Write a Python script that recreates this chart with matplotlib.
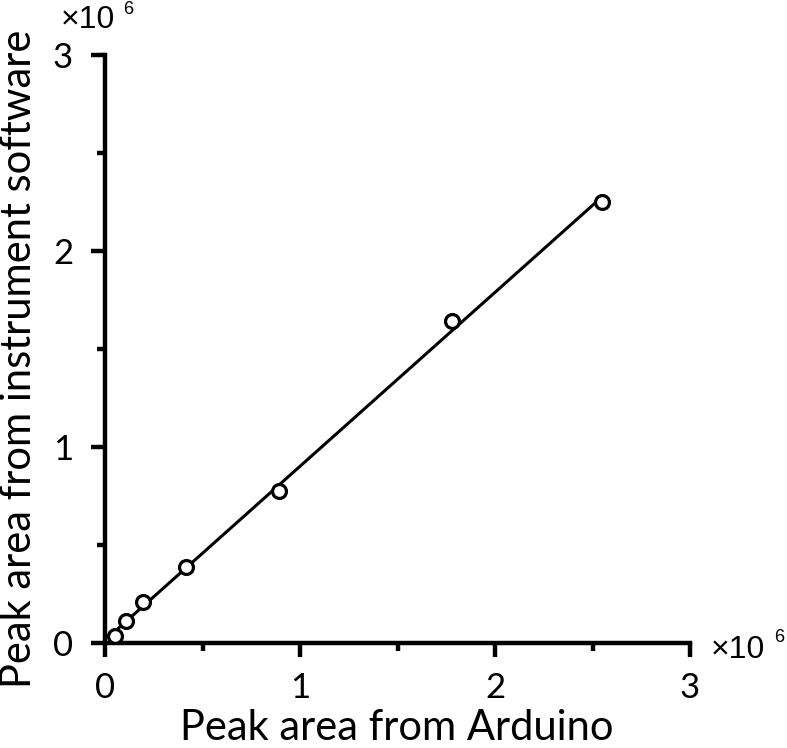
import matplotlib
matplotlib.use("Agg")
from matplotlib import pyplot as plt
from matplotlib.ticker import MultipleLocator
import numpy as np

# peak areas, in units of 1e6
arduino = [0.05, 0.11, 0.195, 0.415, 0.89, 1.78, 2.55]
instrument = [0.036, 0.11, 0.21, 0.39, 0.776, 1.643, 2.25]
ticks = [0, 1, 2, 3]

x = np.array(arduino)
y = np.array(instrument)
k, b = np.polyfit(x, y, 1)
xf = np.array([x.min(), x.max()])

W, H = 787, 748
fig = plt.figure(figsize=(W / 100, H / 100), dpi=100)
ax = fig.add_axes([105 / W, 1 - 643 / H, 585 / W, 588 / H])

ax.plot(xf, k * xf + b, color='black', lw=2.2, zorder=2)
ax.plot(x, y, 'o', mfc='white', mec='black', ms=10, mew=2.3, zorder=3,
        clip_on=False)

ax.set_xlim(0, 3)
ax.set_ylim(0, 3)
ax.set_xticks(ticks)
ax.set_yticks(ticks)
ax.xaxis.set_minor_locator(MultipleLocator(0.5))
ax.yaxis.set_minor_locator(MultipleLocator(0.5))

for s in ['top', 'right']:
    ax.spines[s].set_visible(False)
for s in ['left', 'bottom']:
    ax.spines[s].set_linewidth(3.2)

ax.tick_params(which='major', direction='out', length=10, width=3.2,
               labelsize=25)
ax.tick_params(axis='x', which='major', pad=11)
ax.tick_params(axis='y', which='major', pad=13)
ax.tick_params(which='minor', direction='out', length=6, width=3.2)
for lab in ax.get_xticklabels() + ax.get_yticklabels():
    lab.set_family('Lato')

fig.text(397 / W, 1 - 740 / H, 'Peak area from Arduino', fontsize=30,
         family='Lato', ha='center', va='baseline')
fig.text(19 / W, 1 - 359 / H, 'Peak area from instrument software',
         fontsize=30, family='Lato', rotation=90, ha='center', va='center')

# x10^6 multipliers
fig.text(61 / W, 1 - 20 / H, '\u00d710', fontsize=23, family='Liberation Sans',
         ha='left', va='center')
fig.text(123 / W, 1 - 9 / H, '6', fontsize=13, family='Liberation Sans',
         ha='left', va='center')
fig.text(711 / W, 1 - 650 / H, '\u00d710', fontsize=23, family='Liberation Sans',
         ha='left', va='center')
fig.text(774 / W, 1 - 638 / H, '6', fontsize=13, family='Liberation Sans',
         ha='left', va='center')

fig.savefig('out.png', dpi=100)
